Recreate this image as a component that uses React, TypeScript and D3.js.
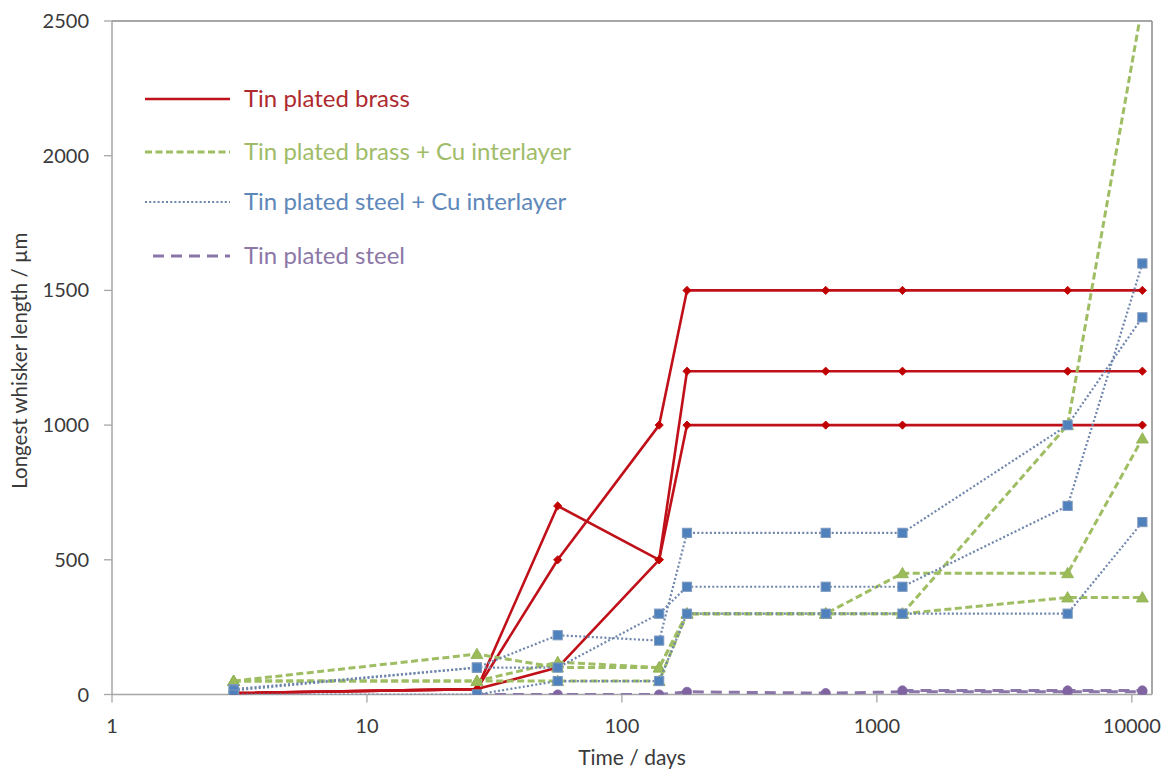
import React from "react";
import * as d3 from "d3";

// ---- data ----
const days = [3, 27, 56, 140, 180, 630, 1260, 5600, 11000];

const brassA = [5, 20, 700, 500, 1200, 1200, 1200, 1200, 1200];
const brassB = [5, 20, 500, 1000, 1500, 1500, 1500, 1500, 1500];
const brassC = [5, 20, 100, 500, 1000, 1000, 1000, 1000, 1000];

const brassCuA = [50, 150, 100, 100, 300, 300, 450, 450, 950];
const brassCuB = [50, 50, 120, 100, 300, 300, 300, 1000, 2560];
const brassCuC = [50, 50, 50, 50, 300, 300, 300, 360, 360];

const steelCuA = [20, 100, 220, 200, 600, 600, 600, 1000, 1400];
const steelCuB = [15, 100, 100, 300, 400, 400, 400, 700, 1600];
const steelCuC = [0, 0, 50, 50, 300, 300, 300, 300, 640];

const steelA: (number | null)[] = [null, 0, 0, 0, 10, 5, 10, 10, 10];
const steelB: (number | null)[] = [null, null, null, null, null, null, 15, 15, 15];

const yTicks = [0, 500, 1000, 1500, 2000, 2500];
const xTicks = [1, 10, 100, 1000, 10000];

const legendLabels = [
  "Tin plated brass",
  "Tin plated brass + Cu interlayer",
  "Tin plated steel + Cu interlayer",
  "Tin plated steel",
];

const X_MAX = 12000;
const Y_MAX = 2500;

// ---- layout ----
const W = 1169;
const H = 773;
const M = { left: 112, right: 1152, top: 21, bottom: 694.5 };

const FONT = "Lato, 'Open Sans', sans-serif";

type Style = {
  color: string;
  width: number;
  dash: string | null;
  marker: "diamond" | "triangle" | "square" | "circle";
  mFill: string;
  mStroke: string;
  text: string;
};

const styles: Style[] = [
  { color: "#C0101A", width: 2.6, dash: null, marker: "diamond", mFill: "#C00000", mStroke: "#C00000", text: "#AE2A2E" },
  { color: "#9FBD63", width: 3, dash: "7,3.5", marker: "triangle", mFill: "#9BBB59", mStroke: "#8EAE50", text: "#9FBC68" },
  { color: "#6F86AC", width: 2.2, dash: "2,2.2", marker: "square", mFill: "#4F81BD", mStroke: "#7C98BE", text: "#5E88B9" },
  { color: "#8A76A8", width: 3, dash: "11,7", marker: "circle", mFill: "#8064A2", mStroke: "#8064A2", text: "#8C77A7" },
];

const groups: { style: number; series: (number | null)[][] }[] = [
  { style: 0, series: [brassA, brassB, brassC] },
  { style: 1, series: [brassCuA, brassCuB, brassCuC] },
  { style: 3, series: [steelA, steelB] },
  { style: 2, series: [steelCuA, steelCuB, steelCuC] },
];

export default function App() {
  const x = d3.scaleLog().domain([1, X_MAX]).range([M.left, M.right]);
  const y = d3.scaleLinear().domain([0, Y_MAX]).range([M.bottom, M.top]);

  const line = d3
    .line<[number, number | null]>()
    .defined((d) => d[1] !== null)
    .x((d) => x(d[0]))
    .y((d) => y(d[1] as number));

  const marker = (st: Style, cx: number, cy: number, key: string) => {
    if (st.marker === "circle")
      return <circle key={key} cx={cx} cy={cy} r={4.6} fill={st.mFill} stroke={st.mStroke} strokeWidth={0.8} />;
    if (st.marker === "square")
      return (
        <rect key={key} x={cx - 4.6} y={cy - 4.6} width={9.2} height={9.2} fill={st.mFill} stroke={st.mStroke} strokeWidth={1} />
      );
    if (st.marker === "diamond") {
      const p = d3.symbol(d3.symbolSquare, 34)();
      return <path key={key} d={p as string} transform={`translate(${cx},${cy}) rotate(45)`} fill={st.mFill} stroke={st.mStroke} strokeWidth={0.8} />;
    }
    const p = d3.symbol(d3.symbolTriangle, 62)();
    return <path key={key} d={p as string} transform={`translate(${cx},${cy + 1})`} fill={st.mFill} stroke={st.mStroke} strokeWidth={0.8} />;
  };

  const legendY = [99, 152, 202, 256];

  return (
    <div style={{ position: "absolute", left: 0, top: 0 }}>
      <svg width={W} height={H} style={{ display: "block", background: "#fff" }} fontFamily={FONT}>
        <defs>
          <clipPath id="plot">
            <rect x={M.left} y={M.top} width={M.right - M.left} height={M.bottom - M.top} />
          </clipPath>
        </defs>

        {/* plot frame */}
        <line x1={M.left} x2={M.right} y1={M.top} y2={M.top} stroke="#8A8A8A" strokeWidth={1.5} />
        <line x1={M.right} x2={M.right} y1={M.top} y2={M.bottom} stroke="#8A8A8A" strokeWidth={1.5} />

        {/* y axis */}
        <line x1={M.left} x2={M.left} y1={M.top} y2={M.bottom} stroke="#A6A6A6" strokeWidth={1.5} />
        {yTicks.map((t) => (
          <g key={"yt" + t}>
            <line x1={M.left - 8} x2={M.left} y1={y(t)} y2={y(t)} stroke="#A6A6A6" strokeWidth={1.3} />
            <text x={89} y={y(t)} dy="0.35em" textAnchor="end" fontSize={20} fill="#3A3A3A">
              {t}
            </text>
          </g>
        ))}

        {/* x axis */}
        <line x1={M.left} x2={M.right} y1={M.bottom} y2={M.bottom} stroke="#A6A6A6" strokeWidth={1.5} />
        {xTicks.map((t) => (
          <g key={"xt" + t}>
            <line x1={x(t)} x2={x(t)} y1={M.bottom} y2={M.bottom + 8} stroke="#A6A6A6" strokeWidth={1.3} />
            <text x={x(t)} y={733} textAnchor="middle" fontSize={20} fill="#3A3A3A">
              {t}
            </text>
          </g>
        ))}

        {/* axis titles */}
        <text x={(M.left + M.right) / 2} y={765} textAnchor="middle" fontSize={21} fill="#3A3A3A">
          Time / days
        </text>
        <text
          transform={`translate(27,${(M.top + M.bottom) / 2 + 3}) rotate(-90)`}
          textAnchor="middle"
          fontSize={20.5}
          fill="#3A3A3A"
        >
          Longest whisker length / µm
        </text>

        {/* series */}
        <g clipPath="url(#plot)">
          {groups.map((g, gi) =>
            g.series.map((s, si) => {
              const st = styles[g.style];
              const pts = days.map((d, i) => [d, s[i]] as [number, number | null]);
              return (
                <g key={`s${gi}-${si}`}>
                  <path
                    d={line(pts) as string}
                    fill="none"
                    stroke={st.color}
                    strokeWidth={st.width}
                    strokeDasharray={st.dash ?? undefined}
                    strokeLinejoin="round"
                  />
                  {pts
                    .filter((p) => p[1] !== null && (p[1] as number) <= Y_MAX)
                    .map((p, i) => marker(st, x(p[0]), y(p[1] as number), `m${i}`))}
                </g>
              );
            })
          )}
        </g>

        {/* legend */}
        {legendLabels.map((lab, i) => {
          const st = styles[i];
          const ly = legendY[i];
          return (
            <g key={"lg" + i}>
              <line
                x1={i === 3 ? 153 : 145}
                x2={230}
                y1={ly}
                y2={ly}
                stroke={st.color}
                strokeWidth={st.width}
                strokeDasharray={st.dash ?? undefined}
              />
              <text x={244} y={ly} dy="0.35em" fontSize={24} fill={st.text}>
                {lab}
              </text>
            </g>
          );
        })}
      </svg>
    </div>
  );
}
